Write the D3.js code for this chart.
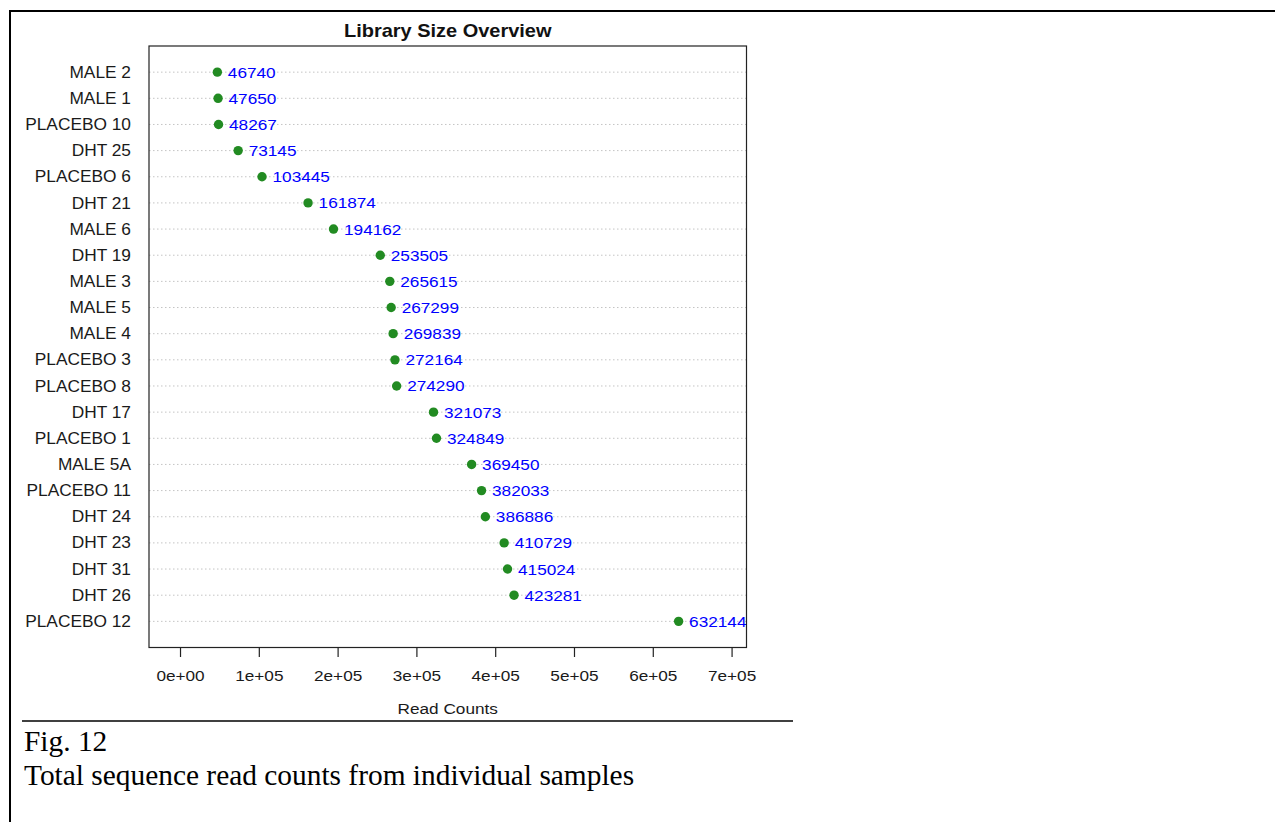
<!DOCTYPE html>
<html>
<head>
<meta charset="utf-8">
<title>Library Size Overview</title>
<script src="https://cdn.jsdelivr.net/npm/d3@7"></script>
<style>
  html, body { margin: 0; padding: 0; background: #fff; }
  svg { display: block; }
</style>
</head>
<body>
<svg id="fig" width="1275" height="822"></svg>
<script>
// Samples in plotting order, top to bottom
const samples = [
  "MALE 2", "MALE 1", "PLACEBO 10", "DHT 25", "PLACEBO 6", "DHT 21", "MALE 6",
  "DHT 19", "MALE 3", "MALE 5", "MALE 4", "PLACEBO 3", "PLACEBO 8", "DHT 17",
  "PLACEBO 1", "MALE 5A", "PLACEBO 11", "DHT 24", "DHT 23", "DHT 31", "DHT 26",
  "PLACEBO 12"
];
// Total read counts per sample
const readCounts = [
  46740, 47650, 48267, 73145, 103445, 161874, 194162,
  253505, 265615, 267299, 269839, 272164, 274290, 321073,
  324849, 369450, 382033, 386886, 410729, 415024, 423281,
  632144
];
// Axis tick values
const xTicks = [0, 100000, 200000, 300000, 400000, 500000, 600000, 700000];

const titleText = "Library Size Overview";
const xLabel = "Read Counts";
const captionLines = ["Fig. 12", "Total sequence read counts from individual samples"];

// Layout
const box = { left: 149, right: 746.5, top: 46, bottom: 647.5 };
const xlim = [-40000, 718300];
const sans = "'Liberation Sans', Arial, Helvetica, sans-serif";
const serif = "'Liberation Serif', 'Times New Roman', Times, serif";
const stretch = 1.11;   // horizontal stretch applied to the chart's lettering

const svg = d3.select("#fig");

const x = d3.scaleLinear().domain(xlim).range([box.left, box.right]);
const n = samples.length;
const y = d3.scaleLinear().domain([0, n + 1]).range([box.bottom, box.top]);
const rowY = i => y(n - i);

// scientific tick labels such as 1e+05
const sci = v => {
  if (v === 0) return "0e+00";
  const e = Math.floor(Math.log10(Math.abs(v)));
  const m = v / Math.pow(10, e);
  return `${+m.toFixed(0)}e+${String(e).padStart(2, "0")}`;
};

// text helper with horizontal stretch about the anchor point
function label(g, px, py, txt, opts) {
  return g.append("text")
    .attr("transform", `translate(${px},${py}) scale(${opts.sx || 1},1)`)
    .attr("text-anchor", opts.anchor || "start")
    .attr("font-family", opts.family || sans)
    .attr("font-size", opts.size)
    .attr("font-weight", opts.weight || "normal")
    .attr("fill", opts.fill || "#1a1a1a")
    .text(txt);
}

// Page frame
svg.append("line").attr("x1", 9).attr("x2", 1275).attr("y1", 11).attr("y2", 11)
  .attr("stroke", "#000").attr("stroke-width", 2);
svg.append("line").attr("x1", 10).attr("x2", 10).attr("y1", 10).attr("y2", 822)
  .attr("stroke", "#000").attr("stroke-width", 2);

const chart = svg.append("g");

// Dotted guide lines for every row
chart.append("g").selectAll("line").data(samples).join("line")
  .attr("x1", box.left).attr("x2", box.right)
  .attr("y1", (d, i) => rowY(i)).attr("y2", (d, i) => rowY(i))
  .attr("stroke", "#c4c4c4").attr("stroke-width", 1)
  .attr("stroke-dasharray", "1.5,2.5");

// Plot box
chart.append("rect")
  .attr("x", box.left).attr("y", box.top)
  .attr("width", box.right - box.left).attr("height", box.bottom - box.top)
  .attr("fill", "none").attr("stroke", "#222").attr("stroke-width", 1.2);

// Row labels
const rowLab = chart.append("g");
samples.forEach((s, i) => {
  label(rowLab, 131, rowY(i) + 5.6, s, { anchor: "end", size: 15.6, sx: stretch });
});

// Points
chart.append("g").selectAll("circle").data(readCounts).join("circle")
  .attr("cx", d => x(d)).attr("cy", (d, i) => rowY(i))
  .attr("r", 4.7).attr("fill", "#228B22");

// Value labels
const valLab = chart.append("g");
readCounts.forEach((v, i) => {
  label(valLab, x(v) + 10.5, rowY(i) + 5.5, String(v), { size: 15.5, sx: stretch, fill: "#0000ff" });
});

// X axis ticks (no axis line; the box bottom serves)
const axis = chart.append("g");
axis.selectAll("line").data(xTicks).join("line")
  .attr("x1", d => x(d)).attr("x2", d => x(d))
  .attr("y1", box.bottom).attr("y2", box.bottom + 9.5)
  .attr("stroke", "#222").attr("stroke-width", 1.2);
xTicks.forEach(t => {
  label(axis, x(t), 680.5, sci(t), { anchor: "middle", size: 15.5, sx: stretch });
});

// Axis title and chart title
label(chart, (box.left + box.right) / 2, 714, xLabel, { anchor: "middle", size: 15.5, sx: stretch });
label(chart, (box.left + box.right) / 2, 36.5, titleText, { anchor: "middle", size: 18, sx: stretch, weight: "bold", fill: "#111" });

// Caption
svg.append("line").attr("x1", 22).attr("x2", 793).attr("y1", 721).attr("y2", 721)
  .attr("stroke", "#000").attr("stroke-width", 1.3);
label(svg, 24, 751, captionLines[0], { size: 29.4, family: serif, fill: "#000" });
label(svg, 24, 785, captionLines[1], { size: 29.4, family: serif, fill: "#000" });
</script>
</body>
</html>
